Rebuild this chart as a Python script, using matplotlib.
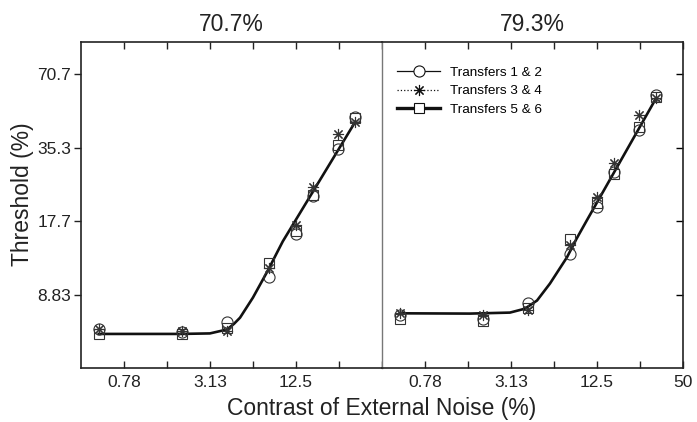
import matplotlib.pyplot as plt
from matplotlib.lines import Line2D
from matplotlib.ticker import NullFormatter

plt.rcParams['font.family'] = ['Liberation Sans', 'DejaVu Sans']

# external noise contrast (%)
noise = [0.52, 2.0, 4.1, 8.1, 12.4, 16.5, 24.7, 32.5]

# thresholds (%), 70.7% criterion
t12_707 = [6.39, 6.2, 6.83, 10.4, 15.6, 22.4, 35.0, 47.4]
t34_707 = [6.39, 6.25, 6.25, 11.3, 17.0, 24.4, 40.4, 45.2]
t56_707 = [6.09, 6.09, 6.45, 11.85, 16.1, 22.6, 36.4, 47.0]

# thresholds (%), 79.3% criterion
t12_793 = [7.3, 7.03, 8.19, 13.0, 20.2, 28.1, 41.9, 58.4]
t34_793 = [7.4, 7.25, 7.6, 14.1, 22.2, 30.6, 48.0, 56.3]
t56_793 = [7.03, 6.9, 7.8, 15.0, 20.9, 27.7, 43.1, 57.3]

# model fit curves
fit_x_707 = [0.52, 1.93, 3.12, 4.11, 4.6, 5.07, 6.24, 7.95, 9.0, 10.1, 32.5]
fit_y_707 = [6.09, 6.09, 6.12, 6.35, 6.7, 7.1, 8.58, 11.1, 12.8, 14.6, 45.2]
fit_x_793 = [0.52, 1.61, 3.07, 3.91, 4.75, 5.85, 7.69, 9.0, 10.6, 32.3]
fit_y_793 = [7.4, 7.38, 7.45, 7.73, 8.35, 9.8, 12.55, 15.0, 17.8, 56.3]

xticks = [0.78125, 3.125, 12.5, 50]
xticklabels = ['0.78', '3.13', '12.5', '50']
xminor = [1.5625, 6.25, 25]
yticks = [8.83, 17.7, 35.3, 70.7]
yticklabels = ['8.83', '17.7', '35.3', '70.7']

mk = '#333333'
star = (8, 2, 0)

fig, axes = plt.subplots(1, 2, figsize=(6.97, 4.22), dpi=100, sharey=True)
fig.subplots_adjust(left=0.1162, right=0.98, top=0.9005, bottom=0.128, wspace=0)

panels = [
    (axes[0], '70.7%', t12_707, t34_707, t56_707, fit_x_707, fit_y_707),
    (axes[1], '79.3%', t12_793, t34_793, t56_793, fit_x_793, fit_y_793),
]
for ax, title, a, b, c, fx, fy in panels:
    ax.plot(fx, fy, color='#111111', lw=1.9, zorder=3)
    ax.plot(noise, a, ls='none', marker='o', ms=8, mfc='none', mec=mk, mew=0.8, zorder=4)
    ax.plot(noise, b, ls='none', marker=star, ms=8, mec=mk, mew=0.8, zorder=4)
    ax.plot(noise, c, ls='none', marker='s', ms=6.5, mfc='none', mec=mk, mew=0.8, zorder=4)
    ax.set_xscale('log', base=2)
    ax.set_yscale('log', base=2)
    ax.set_xlim(0.390625, 50)
    ax.set_ylim(4.415, 96)
    ax.set_title(title, fontsize=16.5, pad=8, color='#222222')
    ax.set_xticks(xticks)
    ax.set_xticklabels(xticklabels)
    ax.set_xticks(xminor, minor=True)
    ax.xaxis.set_minor_formatter(NullFormatter())
    ax.tick_params(axis='x', which='both', direction='in', top=True, length=5,
                   width=1, labelsize=12.5, colors='#222222', pad=5)
    for s in ax.spines.values():
        s.set_linewidth(1.2)
        s.set_color('#222222')

ax0, ax1 = axes
ax0.set_yticks(yticks)
ax0.set_yticklabels(yticklabels)
ax0.yaxis.set_minor_locator(plt.NullLocator())
ax0.tick_params(axis='y', direction='out', length=5, width=1, labelsize=12.5,
                colors='#222222', right=False, pad=2)
ax0.spines['right'].set_visible(False)
ax0.get_xticklabels()[-1].set_visible(False)

ax1.tick_params(axis='y', which='both', direction='in', length=5, width=1,
                left=False, right=True, labelleft=False)
ax1.spines['left'].set_color('#777777')
ax1.spines['left'].set_linewidth(1.0)

handles = [
    Line2D([], [], color='#111111', lw=0.9, marker='o', ms=8, mfc='white', mec='#111111', mew=0.8),
    Line2D([], [], color='#111111', lw=0.9, ls=':', marker=star, ms=8, mec='#111111', mew=0.8),
    Line2D([], [], color='#111111', lw=2.4, marker='s', ms=6.5, mfc='white', mec='#111111', mew=0.8),
]
ax1.legend(handles, ['Transfers 1 & 2', 'Transfers 3 & 4', 'Transfers 5 & 6'],
           loc='upper left', bbox_to_anchor=(0.05, 0.925), frameon=False,
           fontsize=9.7, handlelength=3.2, handletextpad=0.7, labelspacing=0.45,
           borderpad=0, borderaxespad=0)

fig.text(0.547, 0.017, 'Contrast of External Noise (%)', ha='center', va='baseline',
         fontsize=16.5, color='#222222')
fig.text(0.032, 0.54, 'Threshold (%)', ha='center', va='center', rotation=90,
         fontsize=16.5, color='#222222')

fig.savefig('out.png', dpi=100)
